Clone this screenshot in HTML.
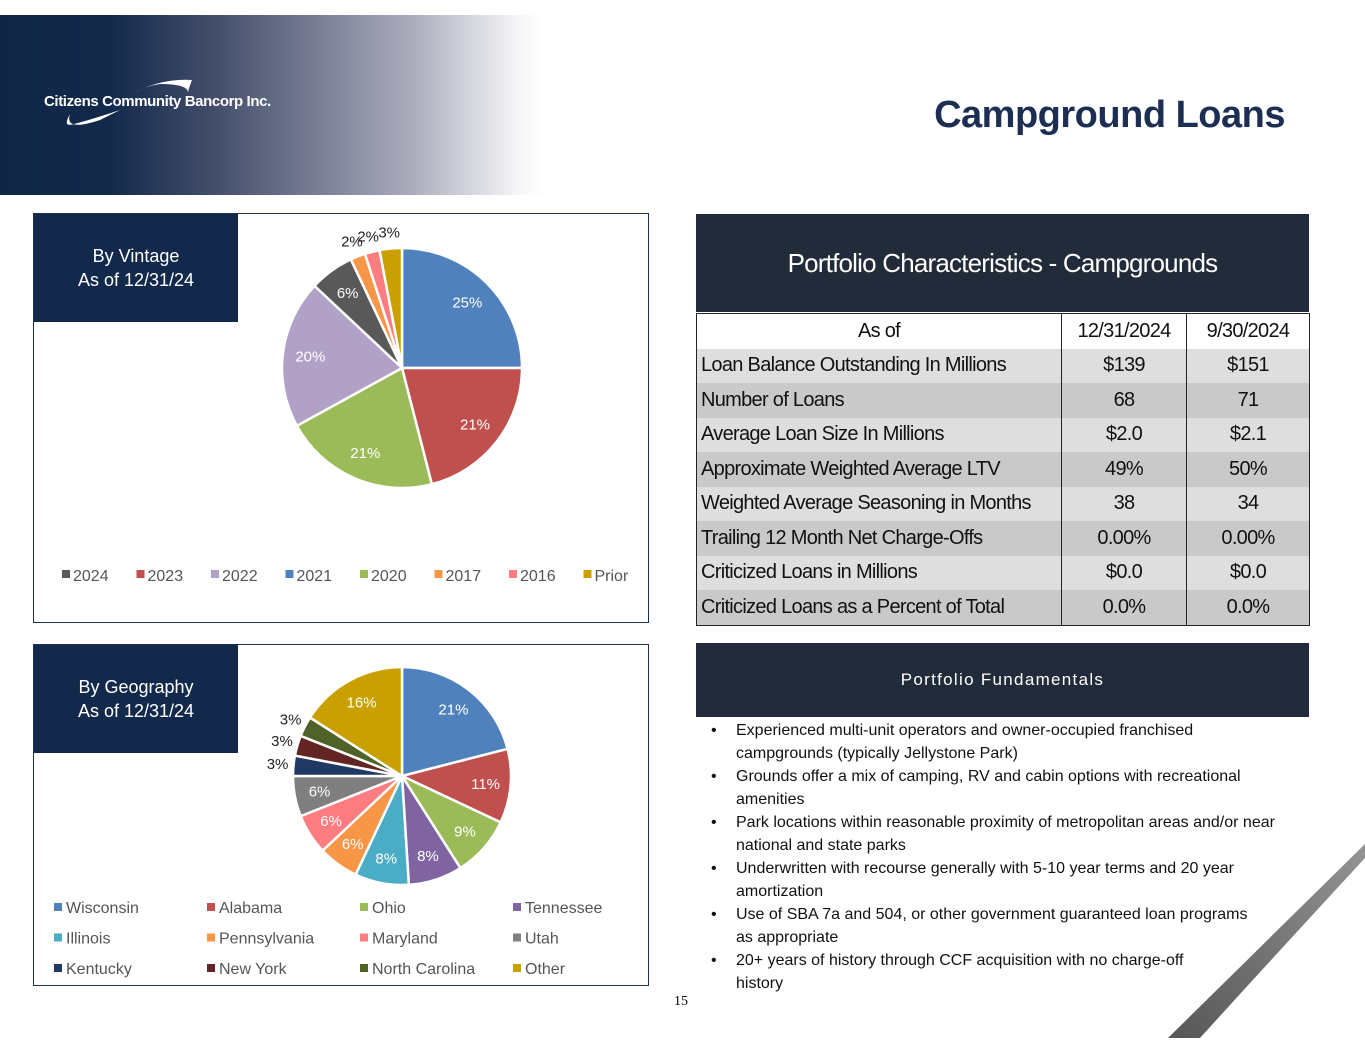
<!DOCTYPE html>
<html><head><meta charset="utf-8">
<style>
body{margin:0;width:1365px;height:1055px;position:relative;background:#fff;font-family:"Liberation Sans",sans-serif;overflow:hidden}
.abs{position:absolute}
.hdr{left:0;top:15px;width:1365px;height:180px;background:linear-gradient(90deg,#0f2747 0%,#13294b 8%,#454f6c 16%,#7f8399 24%,#a9abbb 30%,#d9dae2 35%,#f6f6f8 38%,#fff 40%)}
.title{right:80px;top:94px;font-size:38px;font-weight:bold;color:#1c2f52;letter-spacing:-0.5px}
.panel{border:1px solid #1c2f52;background:#fff}
.tag{background:#13294b;color:#fff;font-size:18px;text-align:center;line-height:24px}
table{border-collapse:collapse;font-size:20px;letter-spacing:-0.7px;color:#111}
td{height:34.5px;padding:0 4px;border-left:1px solid #222;white-space:nowrap}
td.n{text-align:center}
tr.l td{background:#dedede}tr.d td{background:#c9c9c9}
ul{margin:0;padding:0;list-style:none}
li{position:relative;padding-left:25px;font-size:16px;line-height:23px;color:#111}
li:before{content:"•";position:absolute;left:0}
</style></head><body>
<div class="abs hdr"></div>
<div class="abs" style="left:44px;top:93px;color:#fff;font-weight:bold;font-size:15px;letter-spacing:-0.4px">Citizens Community Bancorp Inc.</div>
<svg class="abs" style="left:60px;top:70px" width="150" height="65"><path d="M70,25 Q100,8 132,10 Q128,20 128,24 Q130,14 100,14 Q85,16 70,25Z" fill="#fff"/><path d="M60,40 Q30,50 14,54 Q2,58 10,44 Q4,62 40,50Z" fill="#fff"/></svg>
<div class="abs title">Campground Loans</div>

<div class="abs panel" style="left:33px;top:213px;width:614px;height:408px"></div>
<div class="abs tag" style="left:34px;top:214px;width:204px;height:108px;display:flex;align-items:center;justify-content:center">By Vintage<br>As of 12/31/24</div>
<div class="abs panel" style="left:33px;top:644px;width:614px;height:340px"></div>
<div class="abs tag" style="left:34px;top:645px;width:204px;height:108px;display:flex;align-items:center;justify-content:center">By Geography<br>As of 12/31/24</div>

<svg id="svg" class="abs" style="left:0;top:0" width="700" height="1000"></svg>

<div class="abs" style="left:696px;top:214px;width:613px;height:98px;background:#222b39;color:#fff;font-size:26px;letter-spacing:-0.8px;display:flex;align-items:center;justify-content:center">Portfolio Characteristics - Campgrounds</div>
<table class="abs" style="left:696px;top:313px;width:614px;border:1px solid #222">
<tr><td style="text-align:center;width:356px;border-left:none">As of</td><td class="n" style="width:116px">12/31/2024</td><td class="n">9/30/2024</td></tr>
<tr class="l"><td>Loan Balance Outstanding In Millions</td><td class="n">$139</td><td class="n">$151</td></tr>
<tr class="d"><td>Number of Loans</td><td class="n">68</td><td class="n">71</td></tr>
<tr class="l"><td>Average Loan Size In Millions</td><td class="n">$2.0</td><td class="n">$2.1</td></tr>
<tr class="d"><td>Approximate Weighted Average LTV</td><td class="n">49%</td><td class="n">50%</td></tr>
<tr class="l"><td>Weighted Average Seasoning in Months</td><td class="n">38</td><td class="n">34</td></tr>
<tr class="d"><td>Trailing 12 Month Net Charge-Offs</td><td class="n">0.00%</td><td class="n">0.00%</td></tr>
<tr class="l"><td>Criticized Loans in Millions</td><td class="n">$0.0</td><td class="n">$0.0</td></tr>
<tr class="d"><td>Criticized Loans as a Percent of Total</td><td class="n">0.0%</td><td class="n">0.0%</td></tr>
</table>

<div class="abs" style="left:696px;top:643px;width:613px;height:74px;background:#222b39;color:#fff;font-size:17px;letter-spacing:1.3px;display:flex;align-items:center;justify-content:center">Portfolio Fundamentals</div>
<ul class="abs" style="left:711px;top:719px;width:585px">
<li style="width:510px">Experienced multi-unit operators and owner-occupied franchised campgrounds (typically Jellystone Park)</li>
<li>Grounds offer a mix of camping, RV and cabin options with recreational amenities</li>
<li style="width:560px">Park locations within reasonable proximity of metropolitan areas and/or near national and state parks</li>
<li style="width:560px">Underwritten with recourse generally with 5-10 year terms and 20 year amortization</li>
<li style="width:530px">Use of SBA 7a and 504, or other government guaranteed loan programs as appropriate</li>
<li style="width:480px">20+ years of history through CCF acquisition with no charge-off history</li>
</ul>
<svg class="abs" style="left:1150px;top:830px" width="215" height="215"><defs><linearGradient id="g" x1="0" y1="1" x2="1" y2="0"><stop offset="0" stop-color="#444"/><stop offset="1" stop-color="#888"/></linearGradient></defs><path d="M18,208 L215,14 L215,28 Q130,120 50,208Z" fill="url(#g)" opacity="0.9"/></svg>
<div class="abs" style="left:674px;top:994px;font-family:'Liberation Serif',serif;font-size:14px">15</div>

<script>
const vintageCats=["2021","2023","2020","2022","2024","2017","2016","Prior"];
const vintageVals=[25,21,21,20,6,2,2,3];
const vintageColors=["#4F81BD","#C0504D","#9BBB59","#B2A1C7","#595959","#F79646","#FF7C80","#C9A000"];
const vintageLegend=["2024","2023","2022","2021","2020","2017","2016","Prior"];
const geoCats=["Wisconsin","Alabama","Ohio","Tennessee","Illinois","Pennsylvania","Maryland","Utah","Kentucky","New York","North Carolina","Other"];
const geoVals=[21,11,9,8,8,6,6,6,3,3,3,16];
const geoColors=["#4F81BD","#C0504D","#9BBB59","#8064A2","#4BACC6","#F79646","#FF7C80","#7F7F7F","#1F3864","#632523","#4F6228","#C9A000"];
const NS="http://www.w3.org/2000/svg";
const svg=document.getElementById('svg');
function mk(t,a){const e=document.createElementNS(NS,t);for(const k in a)e.setAttribute(k,a[k]);svg.appendChild(e);return e;}
function pie(cx,cy,r,vals,cols,cats,nm){
  const tot=vals.reduce((a,b)=>a+b,0);let a0=-Math.PI/2;
  vals.forEach((v,i)=>{
    const a1=a0+v/tot*2*Math.PI;
    const x0=cx+r*Math.cos(a0),y0=cy+r*Math.sin(a0),x1=cx+r*Math.cos(a1),y1=cy+r*Math.sin(a1);
    const p=mk('path',{d:`M${cx},${cy}L${x0},${y0}A${r},${r} 0 ${a1-a0>Math.PI?1:0} 1 ${x1},${y1}Z`,fill:cols[i],stroke:'#fff','stroke-width':2.5});
    
    
    const am=(a0+a1)/2,out=v<=3,rr=out?r+16:r*0.77;
    const t=mk('text',{x:cx+rr*Math.cos(am),y:cy+rr*Math.sin(am)+5,'text-anchor':'middle','font-size':15,fill:out?'#222':'#fff'});
    t.textContent=v+'%';
    
    
    a0=a1;
  });
}
pie(402,368,120,vintageVals,vintageColors,vintageCats,'vintage');
pie(402,776,109,geoVals,geoColors,geoCats,'geo');
vintageLegend.forEach((c,i)=>{
  const x=62+i*74.5;
  const s=mk('rect',{x:x,y:570,width:8,height:8,fill:vintageColors[vintageCats.indexOf(c)]});
  
  
  const t=mk('text',{x:x+11,y:581,'font-size':16,fill:'#555'});t.textContent=c;
  
  
});
geoCats.forEach((c,i)=>{
  const x=54+(i%4)*153,y=907+Math.floor(i/4)*30.5;
  const s=mk('rect',{x:x,y:y-4,width:8,height:8,fill:geoColors[i]});
  
  
  const t=mk('text',{x:x+12,y:y+6,'font-size':16,fill:'#555'});t.textContent=c;
  
  
});
</script>
</body></html>
